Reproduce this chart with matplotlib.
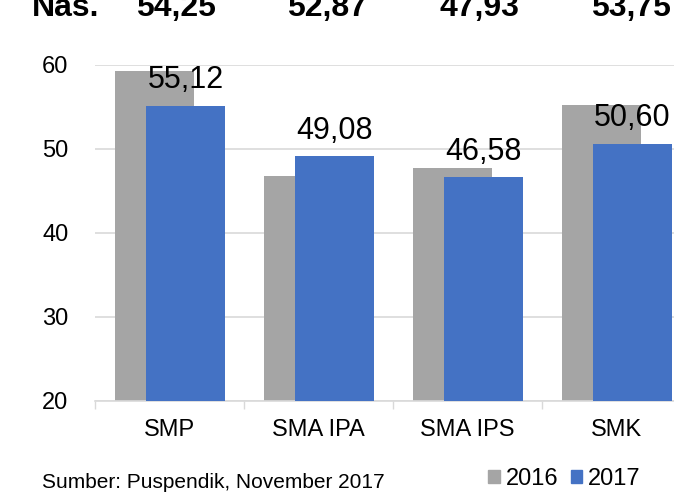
import matplotlib.pyplot as plt
import matplotlib.transforms as mtransforms
from matplotlib.patches import Patch
import numpy as np

plt.rcParams['font.family'] = ['Liberation Sans', 'DejaVu Sans']

categories = ['SMP', 'SMA IPA', 'SMA IPS', 'SMK']
nilai_2016 = [59.2, 46.7, 47.7, 55.2]
nilai_2017 = [55.12, 49.08, 46.58, 50.60]
nasional = ['54,25', '52,87', '47,93', '53,75']

grey = '#A5A5A5'
blue = '#4472C4'
grid_c = '#D9D9D9'

fig = plt.figure(figsize=(6.74, 4.92), dpi=100)
ax = fig.add_axes([95 / 674, 1 - 400.7 / 492, 596 / 674, 336 / 492])

x = np.arange(len(categories))
w = 0.53
ax.bar(x - 0.101, nilai_2016, w, color=grey, zorder=2)
ax.bar(x + 0.107, nilai_2017, w, color=blue, zorder=3)

# data labels for 2017
for xi, v in zip(x, nilai_2017):
    ax.annotate(f'{v:.2f}'.replace('.', ','), (xi + 0.107, v),
                xytext=(0, 12.5), textcoords='offset points',
                ha='center', va='baseline', fontsize=22, zorder=4)

ax.set_ylim(20, 60)
ax.set_xlim(-0.5, 3.5)
ax.set_yticks([20, 30, 40, 50, 60])
ax.set_xticks(x)
ax.set_xticklabels(categories)
ax.set_xticks(np.arange(-0.5, 4, 1), minor=True)
ax.tick_params(axis='y', length=0, pad=19, labelsize=17)
ax.tick_params(axis='x', which='major', length=0, pad=13, labelsize=17)
ax.tick_params(axis='x', which='minor', length=6, width=1, color=grid_c)
ax.yaxis.grid(True, color=grid_c, lw=1.2, zorder=0)
for s in ['left', 'right', 'top']:
    ax.spines[s].set_visible(False)
ax.spines['bottom'].set_color(grid_c)
ax.spines['bottom'].set_linewidth(1.2)

# national averages row at the top
trans = mtransforms.blended_transform_factory(ax.transData, fig.transFigure)
for xi, t in zip(x, nasional):
    ax.text(xi + 0.04 + 0.02 * xi, 1 - 16 / 492, t, transform=trans, ha='center',
            va='baseline', fontsize=23, fontweight='bold', clip_on=False)
fig.text(32 / 674, 1 - 16 / 492, 'Nas.', ha='left', va='baseline',
         fontsize=23, fontweight='bold')

fig.text(42 / 674, 1 - 488 / 492, 'Sumber: Puspendik, November 2017',
         ha='left', va='baseline', fontsize=15)

handles = [Patch(color=grey, label='2016'), Patch(color=blue, label='2017')]
fig.legend(handles=handles, loc='lower left', bbox_to_anchor=(486 / 674, 0.0),
           ncol=2, frameon=False, fontsize=17, handlelength=0.5, handleheight=0.5,
           handletextpad=0.25, columnspacing=0.5, borderpad=0.1, borderaxespad=0.0)

fig.savefig('out.png', dpi=100)
